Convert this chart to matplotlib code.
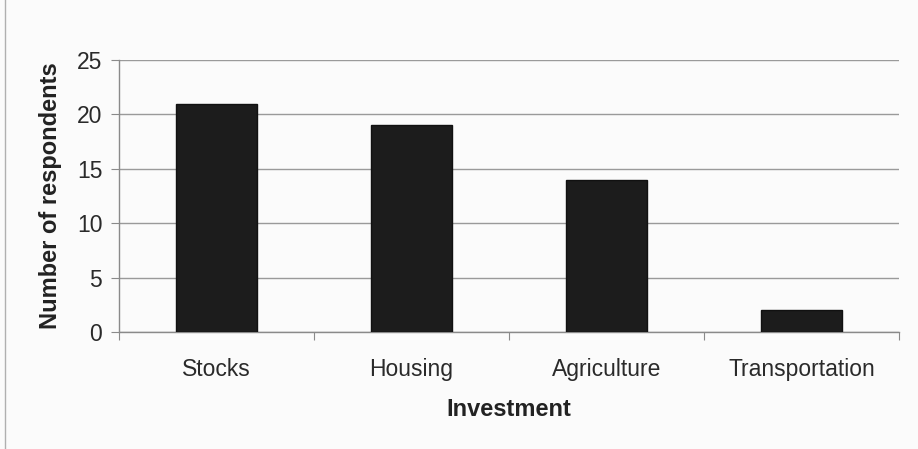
import matplotlib
matplotlib.use("Agg")
import matplotlib.pyplot as plt
import numpy as np

categories = ["Stocks", "Housing", "Agriculture", "Transportation"]
respondents = [21, 19, 14, 2]
y_ticks = [0, 5, 10, 15, 20, 25]

plt.rcParams["font.family"] = ["Liberation Sans", "DejaVu Sans"]

fig = plt.figure(figsize=(9.18, 4.49), dpi=100)
fig.patch.set_facecolor("#fbfbfb")
ax = fig.add_axes([119 / 918, 1 - 332 / 449, 780 / 918, 272 / 449])
ax.set_facecolor("none")

x = np.arange(len(categories))
ax.bar(x, respondents, width=0.42, color="#1c1c1c", edgecolor="#111111", zorder=3)

ax.set_xlim(-0.5, len(categories) - 0.5)
ax.set_ylim(0, 25)
ax.set_yticks(y_ticks)
ax.set_yticklabels([str(v) for v in y_ticks], fontsize=16.5, color="#2a2a2a")
ax.yaxis.grid(True, color="#9a9a9a", linewidth=1.0, zorder=0)

# category boundaries carry the x tick marks; labels sit at the centres
ax.set_xticks(np.arange(-0.5, len(categories)), minor=False)
ax.set_xticklabels([])
ax.set_xticks(x, minor=True)
ax.set_xticklabels(categories, minor=True, fontsize=16.5, color="#2a2a2a")
ax.tick_params(axis="x", which="major", length=6, color="#8a8a8a", direction="out")
ax.tick_params(axis="x", which="minor", length=0, pad=19)
ax.tick_params(axis="y", length=6, color="#8a8a8a", pad=6)

for side in ["top", "right"]:
    ax.spines[side].set_visible(False)
for side in ["left", "bottom"]:
    ax.spines[side].set_color("#8a8a8a")
    ax.spines[side].set_linewidth(1.0)

ax.set_xlabel("Investment", fontsize=17, fontweight="bold", color="#222222", labelpad=12)
ax.set_ylabel("Number of respondents", fontsize=17, fontweight="bold", color="#222222", labelpad=11)

# thin page edge on the left
fig.add_artist(plt.Line2D([5 / 918, 5 / 918], [0, 1], color="#b0b0b0", linewidth=1.0))

fig.savefig("out.png", dpi=100, facecolor=fig.get_facecolor())
